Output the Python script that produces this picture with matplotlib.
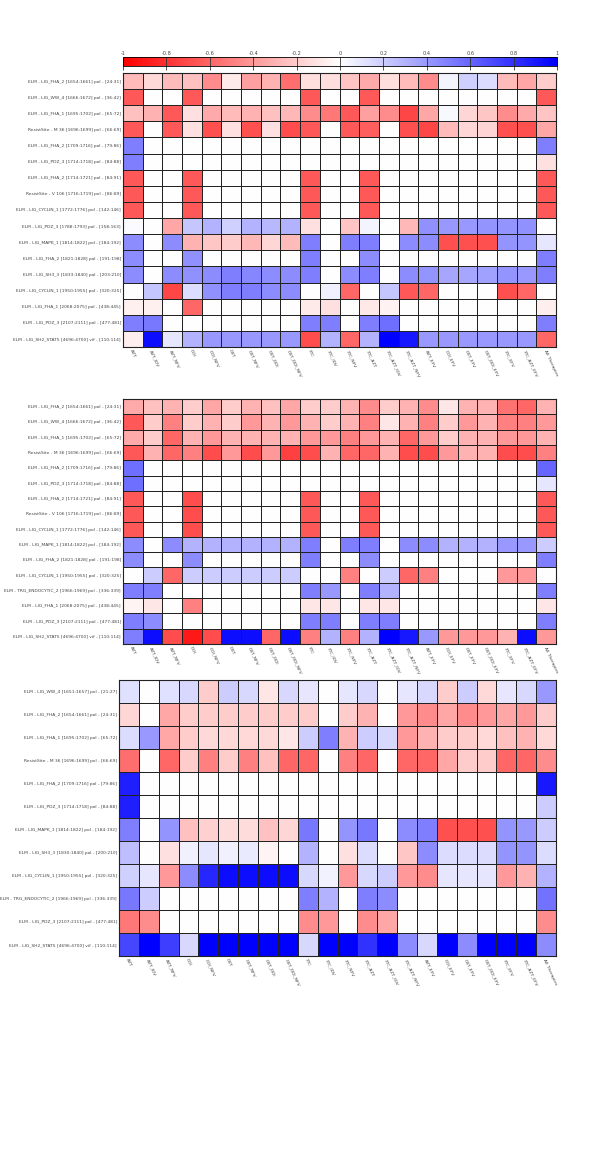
import numpy as np
import matplotlib
matplotlib.use('Agg')
import matplotlib.pyplot as plt
from matplotlib.colors import LinearSegmentedColormap
import matplotlib.colorbar as mcolorbar
from matplotlib.colors import Normalize

columns = ["AZT", "AZT_IDV", "AZT_NFV", "DDI", "DDI_NFV", "D4T", "D4T_NFV",
           "D4T_DDI", "D4T_DDI_NFV", "3TC", "3TC_IDV", "3TC_NFV", "3TC_AZT",
           "3TC_AZT_IDV", "3TC_AZT_NFV", "AZT_EFV", "DDI_EFV", "D4T_EFV",
           "D4T_DDI_EFV", "3TC_EFV", "3TC_AZT_EFV", "All Therapies"]

rows1 = ["ELM - LIG_FHA_2 [1654:1661] pol - [24:31]",
         "ELM - LIG_WW_4 [1666:1672] pol - [36:42]",
         "ELM - LIG_FHA_1 [1695:1702] pol - [65:72]",
         "ResistSite - M 36 [1696:1699] pol - [66:69]",
         "ELM - LIG_FHA_2 [1709:1716] pol - [79:86]",
         "ELM - LIG_PDZ_3 [1714:1718] pol - [84:88]",
         "ELM - LIG_FHA_2 [1714:1721] pol - [84:91]",
         "ResistSite - V 106 [1716:1719] pol - [86:89]",
         "ELM - LIG_CYCLIN_1 [1772:1776] pol - [142:146]",
         "ELM - LIG_PDZ_3 [1788:1793] pol - [158:163]",
         "ELM - LIG_MAPK_1 [1814:1822] pol - [184:192]",
         "ELM - LIG_FHA_2 [1821:1828] pol - [191:198]",
         "ELM - LIG_SH3_3 [1833:1840] pol - [203:210]",
         "ELM - LIG_CYCLIN_1 [1950:1955] pol - [320:325]",
         "ELM - LIG_FHA_1 [2068:2075] pol - [438:445]",
         "ELM - LIG_PDZ_3 [2107:2111] pol - [477:481]",
         "ELM - LIG_SH2_STAT5 [4696:4700] vif - [110:114]"]

vals1 = [
    [-0.27, -0.15, -0.27, -0.25, -0.45, -0.08, -0.37, -0.30, -0.57, -0.13, -0.13, -0.23, -0.33, -0.13, -0.27, -0.45, 0.04, 0.18, 0.14, -0.27, -0.35, -0.20],
    [-0.65, 0, 0, -0.65, 0, 0, 0, 0, 0, -0.65, 0, 0, -0.65, 0, 0, 0, 0, 0, 0, 0, 0, -0.65],
    [-0.25, -0.30, -0.65, -0.12, -0.33, -0.27, -0.30, -0.25, -0.28, -0.45, -0.53, -0.65, -0.37, -0.45, -0.72, -0.35, 0.03, -0.16, -0.22, -0.45, -0.33, -0.23],
    [-0.65, 0, -0.65, -0.12, -0.68, -0.12, -0.68, -0.12, -0.70, -0.65, 0, -0.65, -0.63, 0, -0.68, -0.72, -0.27, -0.16, -0.17, -0.68, -0.68, -0.35],
    [0.50, 0, 0, 0, 0, 0, 0, 0, 0, 0, 0, 0, 0, 0, 0, 0, 0, 0, 0, 0, 0, 0.50],
    [0.50, 0, 0, 0, 0, 0, 0, 0, 0, 0, 0, 0, 0, 0, 0, 0, 0, 0, 0, 0, 0, -0.12],
    [-0.65, 0, 0, -0.65, 0, 0, 0, 0, 0, -0.65, 0, 0, -0.65, 0, 0, 0, 0, 0, 0, 0, 0, -0.65],
    [-0.65, 0, 0, -0.65, 0, 0, 0, 0, 0, -0.65, 0, 0, -0.65, 0, 0, 0, 0, 0, 0, 0, 0, -0.65],
    [-0.65, 0, 0, -0.65, 0, 0, 0, 0, 0, -0.65, 0, 0, -0.65, 0, 0, 0, 0, 0, 0, 0, 0, -0.65],
    [0.02, 0, -0.35, 0.22, 0.30, 0.18, 0.30, 0.28, 0.30, -0.12, 0, -0.23, 0.04, 0, -0.28, 0.43, 0.40, 0.40, 0.42, 0.42, 0.43, 0],
    [0.45, 0, 0.45, -0.30, -0.22, -0.20, -0.28, -0.16, -0.27, 0.50, 0, 0.50, 0.50, 0, 0.45, 0.45, -0.68, -0.68, -0.68, 0.42, 0.42, 0.10],
    [0.45, 0, 0, 0.43, 0, 0, 0, 0, 0, 0.50, 0, 0, 0.45, 0, 0, 0, 0, 0, 0, 0, 0, 0.50],
    [0.45, 0, 0.45, 0.43, 0.45, 0.50, 0.47, 0.45, 0.45, 0.50, 0, 0.45, 0.50, 0, 0.45, 0.42, 0.35, 0.35, 0.37, 0.42, 0.40, 0.50],
    [0, 0.22, -0.72, 0.14, 0.43, 0.50, 0.50, 0.45, 0.45, 0, 0.06, -0.60, 0, 0.22, -0.65, -0.60, 0, 0, 0, -0.68, -0.60, 0],
    [-0.06, -0.06, 0, -0.60, 0, 0, 0, 0, 0, -0.08, -0.12, 0, -0.09, -0.05, 0, 0, 0, 0, 0, 0, 0, -0.07],
    [0.50, 0.53, 0, 0, 0, 0, 0, 0, 0, 0.50, 0.50, 0, 0.50, 0.57, 0, 0, 0, 0, 0, 0, 0, 0.50],
    [-0.07, 0.95, 0.10, 0.30, 0.40, 0.40, 0.40, 0.40, 0.40, -0.70, 0.30, -0.60, 0.30, 1.00, 0.90, 0.40, 0.40, 0.40, 0.40, 0.40, 0.40, -0.60],
]

rows2 = ["ELM - LIG_FHA_2 [1654:1661] pol - [24:31]",
         "ELM - LIG_WW_4 [1666:1672] pol - [36:42]",
         "ELM - LIG_FHA_1 [1695:1702] pol - [65:72]",
         "ResistSite - M 36 [1696:1699] pol - [66:69]",
         "ELM - LIG_FHA_2 [1709:1716] pol - [79:86]",
         "ELM - LIG_PDZ_3 [1714:1718] pol - [84:88]",
         "ELM - LIG_FHA_2 [1714:1721] pol - [84:91]",
         "ResistSite - V 106 [1716:1719] pol - [86:89]",
         "ELM - LIG_CYCLIN_1 [1772:1776] pol - [142:146]",
         "ELM - LIG_MAPK_1 [1814:1822] pol - [184:192]",
         "ELM - LIG_FHA_2 [1821:1828] pol - [191:198]",
         "ELM - LIG_CYCLIN_1 [1950:1955] pol - [320:325]",
         "ELM - TRG_ENDOCYTIC_2 [1966:1969] pol - [336:339]",
         "ELM - LIG_FHA_1 [2068:2075] pol - [438:445]",
         "ELM - LIG_PDZ_3 [2107:2111] pol - [477:481]",
         "ELM - LIG_SH2_STAT5 [4696:4700] vif - [110:114]"]

vals2 = [
    [-0.33, -0.25, -0.30, -0.20, -0.35, -0.20, -0.30, -0.25, -0.35, -0.20, -0.20, -0.30, -0.45, -0.20, -0.30, -0.45, -0.10, -0.30, -0.30, -0.55, -0.60, -0.30],
    [-0.65, -0.20, -0.50, -0.20, -0.30, -0.20, -0.40, -0.30, -0.40, -0.30, -0.20, -0.30, -0.50, -0.10, -0.30, -0.50, -0.20, -0.40, -0.30, -0.50, -0.50, -0.40],
    [-0.33, -0.20, -0.60, -0.30, -0.40, -0.30, -0.30, -0.30, -0.30, -0.40, -0.40, -0.50, -0.40, -0.30, -0.60, -0.40, -0.20, -0.30, -0.30, -0.40, -0.40, -0.30],
    [-0.65, -0.30, -0.60, -0.50, -0.70, -0.40, -0.70, -0.40, -0.75, -0.70, -0.30, -0.60, -0.60, -0.30, -0.70, -0.70, -0.40, -0.30, -0.30, -0.70, -0.70, -0.50],
    [0.57, 0, 0, 0, 0, 0, 0, 0, 0, 0, 0, 0, 0, 0, 0, 0, 0, 0, 0, 0, 0, 0.60],
    [0.57, 0, 0, 0, 0, 0, 0, 0, 0, 0, 0, 0, 0, 0, 0, 0, 0, 0, 0, 0, 0, 0.10],
    [-0.65, 0, 0, -0.70, 0, 0, 0, 0, 0, -0.65, 0, 0, -0.65, 0, 0, 0, 0, 0, 0, 0, 0, -0.65],
    [-0.65, 0, 0, -0.70, 0, 0, 0, 0, 0, -0.65, 0, 0, -0.65, 0, 0, 0, 0, 0, 0, 0, 0, -0.65],
    [-0.65, 0, 0, -0.70, 0, 0, 0, 0, 0, -0.65, 0, 0, -0.65, 0, 0, 0, 0, 0, 0, 0, 0, -0.65],
    [0.45, 0, 0.45, 0.30, 0.30, 0.30, 0.30, 0.30, 0.30, 0.50, 0, 0.50, 0.50, 0, 0.45, 0.45, 0.30, 0.30, 0.30, 0.40, 0.40, 0.20],
    [0.45, 0, 0, 0.45, 0, 0, 0, 0, 0, 0.50, 0, 0, 0.45, 0, 0, 0, 0, 0, 0, 0, 0, 0.50],
    [0, 0.20, -0.60, 0.20, 0.20, 0.20, 0.20, 0.20, 0.20, 0, 0, -0.50, 0, 0.20, -0.60, -0.50, 0, 0, 0, -0.40, -0.40, 0],
    [0.50, 0.50, 0, 0, 0, 0, 0, 0, 0, 0.50, 0.40, 0, 0.50, 0.30, 0, 0, 0, 0, 0, 0, 0, 0.50],
    [-0.04, -0.10, 0, -0.50, 0, 0, 0, 0, 0, -0.10, -0.10, 0, -0.10, -0.10, 0, 0, 0, 0, 0, 0, 0, -0.10],
    [0.50, 0.45, 0, 0, 0, 0, 0, 0, 0, 0.50, 0.50, 0, 0.50, 0.50, 0, 0, 0, 0, 0, 0, 0, 0.50],
    [0.50, 0.95, -0.70, -0.90, -0.70, 0.95, 0.95, -0.60, 0.95, -0.50, 0.30, -0.50, 0.30, 1.00, 0.90, 0.40, -0.40, -0.40, -0.40, -0.30, 0.95, -0.40],
]

rows3 = ["ELM - LIG_WW_4 [1651:1657] pol - [21:27]",
         "ELM - LIG_FHA_2 [1654:1661] pol - [24:31]",
         "ELM - LIG_FHA_1 [1695:1702] pol - [65:72]",
         "ResistSite - M 36 [1696:1699] pol - [66:69]",
         "ELM - LIG_FHA_2 [1709:1716] pol - [79:86]",
         "ELM - LIG_PDZ_3 [1714:1718] pol - [84:88]",
         "ELM - LIG_MAPK_1 [1814:1822] pol - [184:192]",
         "ELM - LIG_SH3_3 [1830:1840] pol - [200:210]",
         "ELM - LIG_CYCLIN_1 [1950:1955] pol - [320:325]",
         "ELM - TRG_ENDOCYTIC_2 [1966:1969] pol - [336:339]",
         "ELM - LIG_PDZ_3 [2107:2111] pol - [477:481]",
         "ELM - LIG_SH2_STAT5 [4696:4700] vif - [110:114]"]

vals3 = [
    [0.12, 0, 0.12, 0.15, -0.20, 0.20, 0.15, -0.10, 0.15, 0.10, 0, 0.10, 0.15, 0, 0.10, 0.15, -0.20, 0.20, -0.15, 0.10, 0.15, 0.40],
    [-0.16, 0, -0.35, -0.20, -0.20, -0.20, -0.20, -0.20, -0.20, -0.20, 0, -0.20, -0.30, 0, -0.40, -0.45, -0.35, -0.45, -0.40, -0.35, -0.40, -0.20],
    [0.14, 0.40, -0.35, -0.20, -0.15, -0.15, -0.15, -0.15, -0.10, 0.20, 0.50, -0.30, 0.20, 0.15, -0.40, -0.30, -0.20, -0.20, -0.15, -0.25, -0.30, -0.15],
    [-0.57, 0, -0.60, -0.20, -0.50, -0.20, -0.50, -0.25, -0.60, -0.60, 0, -0.50, -0.60, 0, -0.60, -0.60, -0.35, -0.20, -0.20, -0.60, -0.60, -0.45],
    [0.88, 0, 0, 0, 0, 0, 0, 0, 0, 0, 0, 0, 0, 0, 0, 0, 0, 0, 0, 0, 0, 0.90],
    [0.88, 0, 0, 0, 0, 0, 0, 0, 0, 0, 0, 0, 0, 0, 0, 0, 0, 0, 0, 0, 0, 0.20],
    [0.50, 0, 0.42, -0.25, -0.18, -0.14, -0.14, -0.24, -0.16, 0.53, 0, 0.42, 0.53, 0, 0.45, 0.50, -0.68, -0.68, -0.68, 0.42, 0.40, 0.20],
    [0.25, 0, -0.12, 0.06, 0.10, 0.06, 0.08, -0.04, 0, 0.30, 0, -0.12, 0.14, 0, -0.22, 0.45, 0.14, 0.14, 0.14, 0.42, 0.42, 0.14],
    [0.18, 0.10, -0.40, 0.45, 0.85, 0.95, 0.95, 0.95, 0.95, 0.15, 0.05, -0.40, 0.15, 0.20, -0.40, -0.45, 0.10, 0.10, 0.10, -0.40, -0.30, 0.30],
    [0.53, 0.20, 0, 0, 0, 0, 0, 0, 0, 0.50, 0.30, 0, 0.50, 0.45, 0, 0, 0, 0, 0, 0, 0, 0.55],
    [-0.53, -0.45, 0, 0, 0, 0, 0, 0, 0, -0.45, -0.40, 0, -0.45, -0.35, 0, 0, 0, 0, 0, 0, 0, -0.45],
    [0.72, 1.00, 0.75, 0.15, 1.00, 1.00, 1.00, 1.00, 1.00, 0.15, 1.00, 1.00, 0.80, 1.00, 0.45, 0.15, 1.00, 0.45, 1.00, 1.00, 1.00, 0.45],
]

cbar_ticks = [-1, -0.8, -0.6, -0.4, -0.2, 0, 0.2, 0.4, 0.6, 0.8, 1]

W, H = 600, 1159
fig = plt.figure(figsize=(W / 100, H / 100), dpi=100)
cmap = LinearSegmentedColormap.from_list("rwb", ["#ff0000", "#ffffff", "#0000ff"])
norm = Normalize(vmin=-1, vmax=1)

label_color = "#444444"
fs = 3.2


def px_axes(left, top, right, bottom):
    return fig.add_axes([left / W, 1 - bottom / H, (right - left) / W, (bottom - top) / H])


def heatmap(vals, rows, left, top, right, bottom):
    ax = px_axes(left, top, right, bottom)
    data = np.array(vals, dtype=float)
    ax.pcolormesh(data, cmap=cmap, norm=norm, edgecolors="#222222", linewidth=0.7)
    ax.set_xlim(0, data.shape[1])
    ax.set_ylim(data.shape[0], 0)
    ax.set_yticks(np.arange(len(rows)) + 0.5)
    ax.set_yticklabels(rows, fontsize=fs, color=label_color)
    ax.set_xticks(np.arange(len(columns)) + 0.5)
    ax.set_xticklabels(columns, fontsize=fs, color=label_color, rotation=-65,
                       ha="left", va="top", rotation_mode="anchor")
    ax.tick_params(length=0, pad=1.5)
    for s in ax.spines.values():
        s.set_color("#222222")
        s.set_linewidth(0.8)
    return ax


# colour bar
cax = px_axes(123, 57, 557, 66)
cb = mcolorbar.ColorbarBase(cax, cmap=cmap, norm=norm, orientation="horizontal", ticks=cbar_ticks)
cb.outline.set_linewidth(0.6)
cax.xaxis.set_ticks_position("top")
cax.tick_params(axis="x", direction="in", length=9, width=0.6, color="#333333",
                labelsize=3.6, labelcolor=label_color, pad=1)
cax.set_xticklabels([("%g" % t) for t in cbar_ticks])

heatmap(vals1, rows1, 123, 73, 556, 347)
heatmap(vals2, rows2, 123, 399, 556, 644)
heatmap(vals3, rows3, 119, 680, 556, 956)

fig.savefig("out.png", dpi=100, facecolor="white")
